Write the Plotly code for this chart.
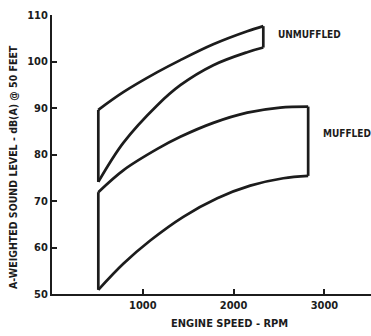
import plotly.graph_objects as go

# Engine speed (rpm) and A-weighted sound level (dB(A) @ 50 ft) bounds
unmuffled_upper_rpm = [510, 785, 1160, 1413, 1776, 2150, 2327]
unmuffled_upper_db = [89.6, 93.4, 97.7, 100.3, 103.7, 106.5, 107.6]
unmuffled_lower_rpm = [510, 785, 1160, 1413, 1776, 2150, 2327]
unmuffled_lower_db = [74.1, 82.5, 90.6, 94.9, 99.2, 102.0, 103.0]

muffled_upper_rpm = [510, 785, 1160, 1413, 1776, 2150, 2513, 2821]
muffled_upper_db = [71.9, 76.6, 81.2, 83.8, 86.8, 89.0, 90.1, 90.3]
muffled_lower_rpm = [510, 785, 1082, 1446, 1820, 2183, 2547, 2821]
muffled_lower_db = [50.9, 56.5, 61.5, 66.6, 70.6, 73.3, 74.9, 75.4]

x_ticks = [1000, 2000, 3000]
y_ticks = [50, 60, 70, 80, 90, 100, 110]

INK = "#1c1c1c"
FONT = "DejaVu Sans Condensed, Liberation Sans Narrow, Liberation Sans, sans-serif"
LW = 2.7

W, H = 371, 336
L, R, T, B = 52, 0, 15, 42
PLOT_W, PLOT_H = W - L - R, H - T - B

fig = go.Figure()


def curve(xs, ys):
    fig.add_trace(go.Scatter(x=xs, y=ys, mode="lines",
                             line=dict(color=INK, width=LW, shape="spline", smoothing=1.0),
                             hoverinfo="skip", showlegend=False))


def edge(xs, ys):
    fig.add_trace(go.Scatter(x=xs, y=ys, mode="lines",
                             line=dict(color=INK, width=LW),
                             hoverinfo="skip", showlegend=False))


for up_x, up_y, lo_x, lo_y in [
    (unmuffled_upper_rpm, unmuffled_upper_db, unmuffled_lower_rpm, unmuffled_lower_db),
    (muffled_upper_rpm, muffled_upper_db, muffled_lower_rpm, muffled_lower_db),
]:
    curve(up_x, up_y)
    curve(lo_x, lo_y)
    edge([up_x[0], lo_x[0]], [up_y[0], lo_y[0]])
    edge([up_x[-1], lo_x[-1]], [up_y[-1], lo_y[-1]])

label_font = dict(family=FONT, size=10, color=INK)
fig.add_annotation(x=2470, y=105.8, text="<b>UNMUFFLED</b>", showarrow=False,
                   xanchor="left", yanchor="middle", font=label_font)
fig.add_annotation(x=2960, y=84.6, text="<b>MUFFLED</b>", showarrow=False,
                   xanchor="left", yanchor="middle", font=label_font)

# axis titles, placed in paper fractions
fig.add_annotation(x=1960, y=-(323 - (H - B)) / PLOT_H, xref="x", yref="paper",
                   text="<b>ENGINE SPEED - RPM</b>", showarrow=False,
                   xanchor="center", yanchor="middle",
                   font=dict(family=FONT, size=11, color=INK))
fig.add_annotation(x=(13 - L) / PLOT_W, y=((H - B) - 167) / PLOT_H,
                   xref="paper", yref="paper",
                   text="<b>A-WEIGHTED SOUND LEVEL - dB(A) @ 50 FEET</b>",
                   showarrow=False, textangle=-90, xanchor="center", yanchor="middle",
                   font=dict(family=FONT, size=10.5, color=INK))

tick_font = dict(family=FONT, size=11, color=INK, weight="bold")
fig.update_layout(
    width=W, height=H,
    margin=dict(l=L, r=R, t=T, b=B),
    paper_bgcolor="white", plot_bgcolor="white",
    xaxis=dict(range=[0, 3513], tickvals=x_ticks, ticks="inside", ticklen=5,
               tickwidth=1.5, tickcolor=INK, showgrid=False, zeroline=False,
               showline=True, linecolor=INK, linewidth=1.8, tickfont=tick_font),
    yaxis=dict(range=[50, 110], tickvals=y_ticks, ticks="inside", ticklen=5,
               tickwidth=1.5, tickcolor=INK, showgrid=False, zeroline=False,
               showline=True, linecolor=INK, linewidth=1.8, tickfont=tick_font),
)

fig.write_html("out.html")
